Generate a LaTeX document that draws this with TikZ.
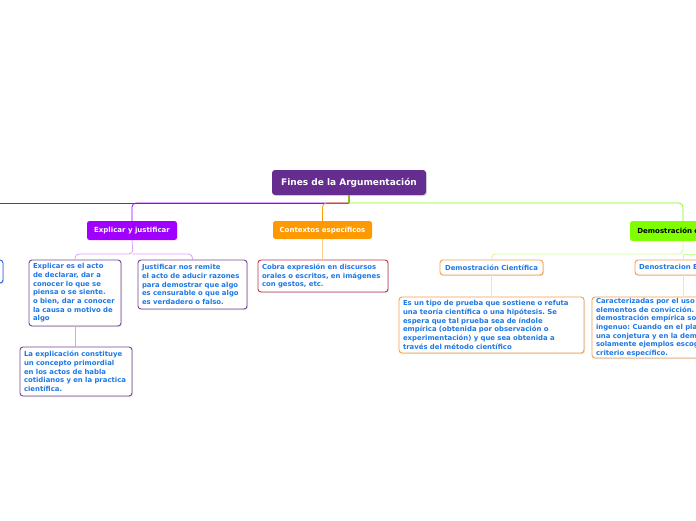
\documentclass[tikz,border=0pt]{standalone}
\usepackage{fontspec}
\setmainfont{DejaVu Sans}
\usetikzlibrary{shadows}
\definecolor{rootc}{RGB}{102,45,145}
\definecolor{violetc}{RGB}{160,0,255}
\definecolor{violetl}{RGB}{214,160,255}
\definecolor{violetb}{RGB}{118,68,152}
\definecolor{orangec}{RGB}{255,153,0}
\definecolor{orangel}{RGB}{255,204,140}
\definecolor{orangeb}{RGB}{240,160,80}
\definecolor{greenc}{RGB}{128,255,0}
\definecolor{greenl}{RGB}{200,255,150}
\definecolor{rootgreen}{RGB}{140,190,40}
\definecolor{bluec}{RGB}{10,80,255}
\definecolor{blueb}{RGB}{40,100,220}
\definecolor{redb}{RGB}{195,50,75}
\definecolor{textblue}{RGB}{30,120,228}
\frenchspacing
\begin{document}
\begin{tikzpicture}[x=1pt,y=-1pt,
  rootbox/.style={fill=rootc, rounded corners=3pt, text=white, font=\fontsize{9}{10}\selectfont\bfseries, inner sep=0pt, minimum width=154pt, minimum height=25pt, drop shadow={shadow xshift=1pt, shadow yshift=-1pt, opacity=0.25}},
  topic/.style={rounded corners=2.5pt, font=\fontsize{7}{8}\selectfont\bfseries, inner sep=0pt},
  card/.style={draw, line width=0.9pt, rounded corners=3pt, fill=white, text=textblue, font=\fontsize{6.9}{8.7}\selectfont\bfseries, align=left, inner xsep=4pt, inner ysep=0pt, drop shadow={shadow xshift=1pt, shadow yshift=-1pt, opacity=0.22}},
  conn/.style={line width=0.8pt, rounded corners=4pt}
]
\useasboundingbox (0,0) rectangle (696,520);
\clip (0,0) rectangle (696,520);

% main nodes
\node[rootbox] (root) at (349,182.5) {Fines de la Argumentación};
\node[topic, fill=violetc, text=white, minimum width=90pt, minimum height=19pt] (ej) at (132,230.5) {Explicar y justificar};
\node[topic, fill=orangec, text=white, minimum width=99pt, minimum height=18pt] (ce) at (322.5,230) {Contextos específicos};
\node[topic, fill=greenc, text=black, minimum width=106pt, minimum height=20pt] (de) at (683,231) {Demostración empírica};

% children
\node[card, draw=blueb, minimum width=86pt, minimum height=23pt] (lb) at (-40,271.5) {};
\node[card, draw=violetb, text width=84pt, minimum height=66pt] (ex) at (75,293) {Explicar es el acto\\de declarar, dar a\\conocer lo que se\\piensa o se siente.\\o bien, dar a conocer\\la causa o motivo de\\algo};
\node[card, draw=violetb, text width=101pt, minimum height=49pt] (ju) at (192.5,284.5) {Justificar nos remite\\el acto de aducir razones\\para demostrar que algo\\es censurable o que algo\\es verdadero o falso.};
\node[card, draw=violetb, text width=104pt, minimum height=49pt] (la) at (76,371.5) {La explicación constituye\\un concepto primordial\\en los actos de habla\\cotidianos y en la practica\\científica.};
\node[card, draw=redb, text width=122pt, minimum height=32pt] (co) at (323,276) {Cobra expresión en discursos\\orales o escritos, en imágenes\\con gestos, etc.};
\node[card, draw=orangeb, align=center, minimum width=103pt, minimum height=15pt] (dc) at (491.5,267.5) {Demostración Científica};
\node[card, draw=orangeb, align=center, minimum width=96pt, minimum height=15pt] (dn) at (683,267.5) {Denostracion Empírica};
\node[card, draw=orangeb, text width=177pt, minimum height=56pt] (es) at (491.5,325) {Es un tipo de prueba que sostiene o refuta\\una teoría científica o una hipótesis. Se\\espera que tal prueba sea de índole\\empírica (obtenida por observación o\\experimentación) y que sea obtenida a\\través del método científico};
\node[card, draw=orangeb, text width=178pt, minimum height=61pt] (ca) at (685,327.5) {Caracterizadas por el uso de\\elementos de convicción. La\\demostración empírica solo es\\ingenuo: Cuando en el planteamiento de\\una conjetura y en la demostración se\\solamente ejemplos escogidos sin un\\criterio específico.};

% coordinates
\coordinate (rj) at (349,203);
\coordinate (leftend) at (-20,203);
\coordinate (ejj) at (133,254);
\coordinate (dej) at (683,254);
\coordinate (dright) at (730,254);

% root connectors
\draw[conn, bluec] (rj) -- (leftend);
\draw[conn, violetc] (rj) -| (ej.north);
\draw[conn, orangec] (rj) -| (ce.north);
\draw[conn, greenc] (rj) -| (de.north);
\draw[line width=2pt, rootgreen] (root.south) -- (rj);

% child connectors
\draw[conn, violetl] (ej.south) -- (ejj) -| (ex.north);
\draw[conn, violetl] (ejj) -| (ju.north);
\draw[conn, violetl] (ex.south) -- (ex.south |- la.north);
\draw[conn, orangel] (ce.south) -- (ce.south |- co.north);
\draw[conn, greenl] (de.south) -- (dej) -| (dc.north);
\draw[conn, greenl] (dej) -- (dright);
\draw[conn, greenl] (dej) -- (dn.north);
\draw[conn, greenl] (dc.south) -- (es.north);
\draw[conn, greenl] (dn.south) -- (dn.south |- ca.north);
\end{tikzpicture}
\end{document}
